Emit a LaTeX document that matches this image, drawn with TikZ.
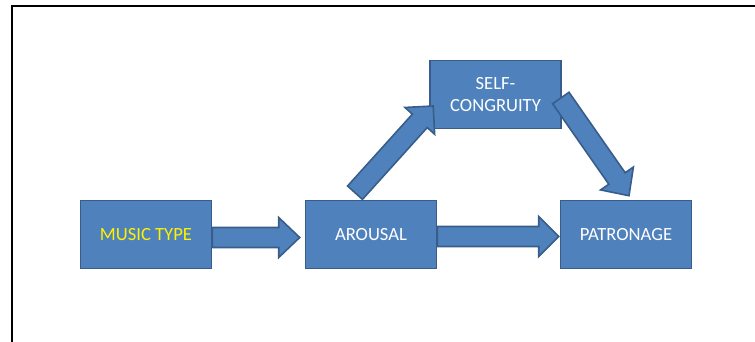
\documentclass[tikz,border=0pt]{standalone}
\usepackage{fontspec}
\setmainfont{Carlito}
\usetikzlibrary{calc}
\definecolor{boxfill}{HTML}{4F81BD}
\definecolor{boxline}{HTML}{385D8A}
\tikzset{
  box/.style={draw=boxline, fill=boxfill, line width=1.6pt, minimum width=131pt,
    minimum height=68pt, text=white, align=center,
    font=\fontsize{18.6}{21.6}\selectfont},
  barrow/.style={draw=boxline, fill=boxfill, line width=1.6pt, line join=miter}
}
% block arrow: #1 start, #2 tip, #3 head length
\newcommand\blockarrow[3]{%
  \path (#1) coordinate (ba-s) (#2) coordinate (ba-t);
  \path ($(ba-t)!#3!(ba-s)$) coordinate (ba-h);
  \draw[barrow] ($(ba-s)!10pt!90:(ba-t)$) -- ($(ba-h)!10pt!90:(ba-t)$)
    -- ($(ba-h)!20pt!90:(ba-t)$) -- (ba-t) -- ($(ba-h)!20pt!-90:(ba-t)$)
    -- ($(ba-h)!10pt!-90:(ba-t)$) -- ($(ba-s)!10pt!-90:(ba-t)$) -- cycle;}
\begin{document}
\begin{tikzpicture}[x=1pt, y=-1pt]
  \useasboundingbox (0,0) rectangle (755,341);
  % frame
  \draw[line width=1.5pt] (12,345) -- (12,6) -- (760,6);
  % boxes
  \node[box] (music) at (146,234.5) {\textcolor{yellow}{MUSIC TYPE}};
  \node[box] (arousal) at (371,234.5) {AROUSAL};
  \node[box] (patronage) at (626,234.5) {PATRONAGE};
  \node[box] (self) at (495.5,94.5) {SELF-\\CONGRUITY};
  % connectors
  \blockarrow{$(music.east)+(0,3)$}{$(arousal.west)+(-5,3)$}{21pt}
  \blockarrow{$(arousal.east)+(0,2)$}{$(patronage.west)+(-1,2)$}{20pt}
  \blockarrow{$(arousal.north)+(-16,-7)$}{$(self.west)+(4,11.5)$}{20pt}
  \blockarrow{$(self.east)+(-1,3.5)$}{$(patronage.north)+(3,-4)$}{21pt}
\end{tikzpicture}
\end{document}
